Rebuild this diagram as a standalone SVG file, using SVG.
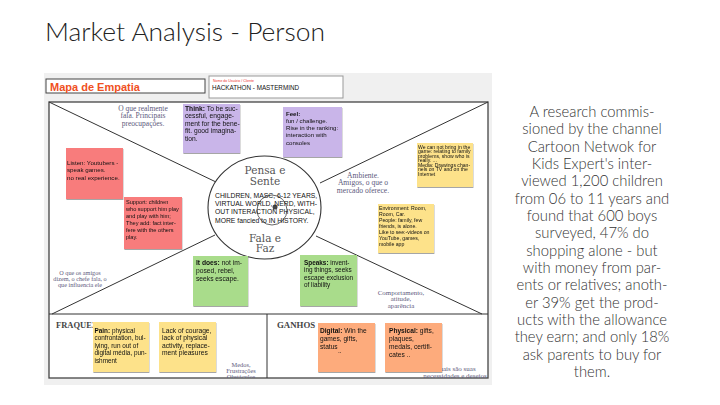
<svg xmlns="http://www.w3.org/2000/svg" width="720" height="405" viewBox="0 0 720 405">
<defs>
<filter id="sh" x="-10%" y="-10%" width="130%" height="130%"><feDropShadow dx="0.4" dy="1" stdDeviation="0.7" flood-color="#000" flood-opacity="0.35"/></filter>
<clipPath id="fr"><rect x="49" y="102" width="439" height="276"/></clipPath>
<style>
.title{font-family:Lato,"Liberation Sans",sans-serif;font-weight:300;fill:#222}
.para{font-family:Lato,"Liberation Sans",sans-serif;font-weight:300;font-size:14.8px;fill:#333;text-anchor:middle}
.sn{font-family:"Liberation Sans",Arial,sans-serif;fill:#111}
.sn tspan.b{font-weight:bold}
.lb{font-family:"Liberation Serif","Times New Roman",serif;fill:#5d5a7c;text-anchor:middle}
.big{font-family:"DejaVu Serif",serif;fill:#555;text-anchor:middle;font-size:10.5px}
.hd{font-family:"Liberation Serif",serif;font-weight:bold;fill:#444}
.ln{stroke:#333;stroke-width:1;fill:none}
.note{filter:url(#sh)}
.pu{fill:#c9b5e9}.rd{fill:#f87c7c}.ye{fill:#fde28a}.gr{fill:#a9dc8b}.or{fill:#fdab7b}
</style>
</defs>
<rect width="720" height="405" fill="#fff"/>
<text class="title" x="45" y="41" font-size="26.4">Market Analysis - Person</text>

<g id="panel">
<rect x="44" y="73" width="448" height="312" fill="#f0f0f0"/>
<rect x="46" y="79" width="159" height="14" fill="#fff" stroke="#444" stroke-width="1"/>
<text x="50" y="90.5" font-family="Liberation Sans,Arial,sans-serif" font-weight="bold" font-size="11" fill="#f0501e">Mapa de Empatia</text>
<rect x="209" y="76" width="134" height="22" fill="#fff" stroke="#999" stroke-width="1"/>
<text x="213" y="81.5" font-family="Liberation Sans,Arial,sans-serif" font-size="3.5" fill="#e33">Nome do Usuário / Cliente</text>
<text x="212" y="90" font-family="Liberation Sans,Arial,sans-serif" font-size="6.3" fill="#111">HACKATHON - MASTERMIND</text>
<rect x="49" y="102" width="439" height="276" fill="#fff" stroke="#444" stroke-width="1.3"/>
</g>

<g id="connectors">
<line class="ln" x1="49" y1="102" x2="216" y2="182"/>
<line class="ln" x1="488" y1="102" x2="320" y2="183"/>
<line class="ln" x1="52" y1="314" x2="215" y2="235"/>
<line class="ln" x1="482" y1="314" x2="316" y2="236"/>
<line class="ln" x1="49" y1="314" x2="488" y2="314"/>
<line class="ln" x1="267" y1="314" x2="267" y2="378"/>
</g>

<g id="labels" clip-path="url(#fr)">
<text class="lb" font-size="7.5"><tspan x="143" y="110.5">O que realmente</tspan><tspan x="143" y="118">fala. Principais</tspan><tspan x="143" y="125.5">preocupações.</tspan></text>
<text class="lb" font-size="7.6"><tspan x="363" y="177.5">Ambiente.</tspan><tspan x="363" y="185">Amigos, o que o</tspan><tspan x="363" y="192.5">mercado oferece.</tspan></text>
<text class="lb" font-size="6.2"><tspan x="80" y="275">O que os amigos</tspan><tspan x="80" y="280.8">dizem, o chefe fala, o</tspan><tspan x="80" y="286.6">que influencia ele</tspan></text>
<text class="lb" font-size="6.9"><tspan x="401" y="294.5">Comportamento,</tspan><tspan x="401" y="301.3">atitude,</tspan><tspan x="401" y="308.1">aparência</tspan></text>
<text class="hd" x="56" y="328" font-size="8.5">FRAQUEZAS</text>
<text class="hd" x="277" y="327.5" font-size="8.8">GANHOS</text>
<text class="lb" font-size="6.4"><tspan x="241" y="366.5">Medos,</tspan><tspan x="241" y="373">Frustrações</tspan><tspan x="241" y="379">Obstáculos</tspan></text>
<text class="lb" font-size="7"><tspan x="455" y="370.5">Quais são suas</tspan><tspan x="455" y="377.5">necessidades e desejos</tspan></text>
</g>

<g id="center">
<ellipse cx="264.5" cy="207.5" rx="56.5" ry="51.5" fill="#fff" stroke="#333" stroke-width="1.1"/>
<circle cx="272" cy="210" r="15" fill="none" stroke="#555" stroke-width="0.9"/>
<circle cx="275" cy="207" r="2.5" fill="#444"/>
<text class="big"><tspan x="265" y="174">Pensa e</tspan><tspan x="265" y="184.5">Sente</tspan></text>
<text class="big"><tspan x="265" y="241.5">Fala e</tspan><tspan x="265" y="252">Faz</tspan></text>
<text class="sn" font-size="6.8"><tspan x="215" y="197.5">CHILDREN, MASC, 6-12 YEARS,</tspan><tspan x="215" y="206">VIRTUAL WORLD, NERD, WITH-</tspan><tspan x="215" y="214">OUT INTERACTION PHYSICAL,</tspan><tspan x="215" y="222.5">MORE fancied to IN HISTORY.</tspan></text>
</g>

<g id="think" class="note">
<rect class="pu" x="183" y="104" width="57" height="49"/>
<text class="sn" font-size="6.7"><tspan x="185" y="110.5"><tspan class="b">Think:</tspan> To be suc-</tspan><tspan x="185" y="118">cessful, engage-</tspan><tspan x="185" y="125.5">ment for the bene-</tspan><tspan x="185" y="133">fit. good imagina-</tspan><tspan x="185" y="140.5">tion.</tspan></text>
</g>
<g id="feel" class="note">
<rect class="pu" x="283" y="107" width="59" height="50"/>
<text class="sn" font-size="6.1"><tspan x="286" y="115.5" class="b">Feel:</tspan><tspan x="286" y="122.7">fun / challenge.</tspan><tspan x="286" y="130">Rise in the ranking:</tspan><tspan x="286" y="137.3">interaction with</tspan><tspan x="286" y="144.5">consoles</tspan></text>
</g>
<g id="listen" class="note">
<rect class="rd" x="66" y="148" width="57" height="51"/>
<text class="sn" font-size="6.2"><tspan x="67" y="165">Listen: Youtubers -</tspan><tspan x="67" y="172.2">speak games.</tspan><tspan x="67" y="179.5">no real experience.</tspan></text>
</g>
<g id="support" class="note">
<rect class="rd" x="124" y="197" width="58" height="52"/>
<text class="sn" font-size="5.6"><tspan x="126" y="204">Support: children</tspan><tspan x="126" y="211">who support him play</tspan><tspan x="126" y="218">and play with him;</tspan><tspan x="126" y="225">They add: fact inter-</tspan><tspan x="126" y="232">fere with the others</tspan><tspan x="126" y="239">play.</tspan></text>
</g>
<g id="cannot" class="note">
<rect class="ye" x="417" y="143" width="56" height="44"/>
<text class="sn" font-size="5.1"><tspan x="418" y="148.5">We can not bring in the</tspan><tspan x="418" y="153">game: relating to family</tspan><tspan x="418" y="157.5">problems, show who is</tspan><tspan x="418" y="162">really.        ...</tspan><tspan x="418" y="166.5">Media: Drawings chan-</tspan><tspan x="418" y="171">nels on TV and on the</tspan><tspan x="418" y="175.5">Internet</tspan></text>
</g>
<g id="environment" class="note">
<rect class="ye" x="378" y="204" width="56" height="49"/>
<text class="sn" font-size="5.2"><tspan x="379" y="210">Environment: Room,</tspan><tspan x="379" y="216">Room, Car.</tspan><tspan x="379" y="222">People: family, few</tspan><tspan x="379" y="228">friends, is alone.</tspan><tspan x="379" y="234">Like to see:-videos on</tspan><tspan x="379" y="239.7">YouTube, games,</tspan><tspan x="379" y="245.5">mobile app</tspan></text>
</g>
<g id="itdoes" class="note">
<rect class="gr" x="193" y="256" width="55" height="50"/>
<text class="sn" font-size="6.7"><tspan x="196" y="264.5"><tspan class="b">It does:</tspan> not im-</tspan><tspan x="196" y="273">posed, rebel,</tspan><tspan x="196" y="281">seeks escape.</tspan></text>
</g>
<g id="speaks" class="note">
<rect class="gr" x="300" y="255" width="57" height="51"/>
<text class="sn" font-size="6.4"><tspan x="304" y="264.5"><tspan class="b">Speaks:</tspan> invent-</tspan><tspan x="304" y="272">ing things, seeks</tspan><tspan x="304" y="279.5">escape exclusion</tspan><tspan x="304" y="287">of liability</tspan></text>
</g>
<g id="pain" class="note">
<rect class="ye" x="93" y="322" width="56" height="50"/>
<text class="sn" font-size="6.4"><tspan x="94.5" y="332.5"><tspan class="b">Pain:</tspan> physical</tspan><tspan x="94.5" y="340">confrontation, bul-</tspan><tspan x="94.5" y="347.5">lying, run out of</tspan><tspan x="94.5" y="355">digital média, pun-</tspan><tspan x="94.5" y="362.5">ishment</tspan></text>
</g>
<g id="lack" class="note">
<rect class="ye" x="159" y="322" width="57" height="50"/>
<text class="sn" font-size="6.7"><tspan x="162" y="332.5">Lack of courage,</tspan><tspan x="162" y="340">lack of physical</tspan><tspan x="162" y="347.5">activity, replace-</tspan><tspan x="162" y="355">ment pleasures</tspan></text>
</g>
<g id="digital" class="note">
<rect class="or" x="318" y="323" width="57" height="49"/>
<text class="sn" font-size="6.6"><tspan x="320" y="332.5"><tspan class="b">Digital:</tspan> Win the</tspan><tspan x="320" y="340.5">games, gifts,</tspan><tspan x="320" y="348.5">status</tspan><tspan x="338" y="353">..</tspan></text>
</g>
<g id="physical" class="note">
<rect class="or" x="385" y="323" width="57" height="49"/>
<text class="sn" font-size="6.6"><tspan x="389" y="332.5"><tspan class="b">Physical:</tspan> gifts,</tspan><tspan x="389" y="340.5">plaques,</tspan><tspan x="389" y="348.5">medals, certifi-</tspan><tspan x="389" y="356.5">cates    ..</tspan></text>
</g>

<g id="research">
<text class="para"><tspan x="592" y="117">A research commis-</tspan><tspan x="592" y="134.3">sioned by the channel</tspan><tspan x="592" y="151.7">Cartoon Netwok for</tspan><tspan x="592" y="169">Kids Expert's inter-</tspan><tspan x="592" y="186.3">viewed 1,200 children</tspan><tspan x="592" y="203.7">from 06 to 11 years and</tspan><tspan x="592" y="221">found that 600 boys</tspan><tspan x="592" y="238.3">surveyed, 47% do</tspan><tspan x="592" y="255.7">shopping alone - but</tspan><tspan x="592" y="273">with money from par-</tspan><tspan x="592" y="290.3">ents or relatives; anoth-</tspan><tspan x="592" y="307.7">er 39% get the prod-</tspan><tspan x="592" y="325">ucts with the allowance</tspan><tspan x="592" y="342.3">they earn; and only 18%</tspan><tspan x="592" y="359.7">ask parents to buy for</tspan><tspan x="592" y="377">them.</tspan></text>
</g>
</svg>
